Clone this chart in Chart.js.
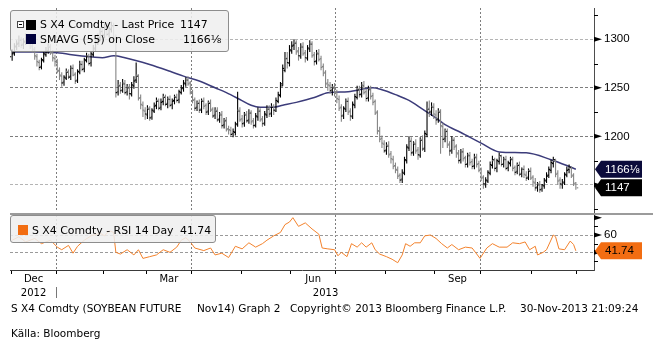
<!DOCTYPE html>
<html>
<head>
<meta charset="utf-8">
<title>S X4 Comdty</title>
<script src="https://cdn.jsdelivr.net/npm/chart.js@4/dist/chart.umd.min.js"></script>
<style>
  body { margin:0; width:653px; height:347px; position:relative; overflow:hidden; background:#fff; color:#000; font-family:"DejaVu Sans", sans-serif; }
  canvas { position:absolute; left:0; }
  #priceChart { top:0; }
  #rsiChart { top:213px; }
  .sep { position:absolute; left:10px; top:213px; width:643px; height:2px; background:#9b9b9b; }
  .box { position:absolute; background:rgba(239,239,239,0.86); border:1px solid #8d8d8d; border-radius:3px; font-size:10.9px; }
  .box span { position:absolute; white-space:nowrap; line-height:14px; }
  .sw { position:absolute; width:10px; height:10px; }
  .tog { position:absolute; width:5px; height:5px; border:1px solid #444; background:#fff; }
  .tog:after { content:''; position:absolute; left:1px; top:2px; width:3px; height:1px; background:#000; }
  .foot { position:absolute; font-size:10.5px; white-space:nowrap; line-height:13px; }
</style>
</head>
<body>
<canvas id="priceChart" width="653" height="213"></canvas>
<canvas id="rsiChart" width="653" height="134"></canvas>
<div class="sep"></div>

<div class="box" style="left:10px;top:10px;width:217px;height:40px">
  <div class="tog" style="left:6px;top:10px"></div>
  <div class="sw" style="left:15px;top:9px;background:#000"></div>
  <span style="left:29px;top:7px">S X4 Comdty - Last Price</span>
  <span id="lastPx" style="left:169px;top:7px"></span>
  <div class="sw" style="left:15px;top:23px;background:#00003c"></div>
  <span style="left:29px;top:22px">SMAVG (55) on Close</span>
  <span id="lastSma" style="left:172px;top:22px"></span>
</div>

<div class="box" style="left:10px;top:215px;width:204px;height:26px">
  <div class="sw" style="left:7px;top:9px;background:#f26d12"></div>
  <span style="left:21px;top:8px">S X4 Comdty - RSI 14 Day</span>
  <span id="lastRsi" style="left:169px;top:8px"></span>
</div>

<div class="foot" style="left:11px;top:302px">S X4 Comdty (SOYBEAN FUTURE</div>
<div class="foot" style="left:197px;top:302px">Nov14) Graph 2</div>
<div class="foot" style="left:290px;top:302px">Copyright© 2013 Bloomberg Finance L.P.</div>
<div class="foot" style="left:520px;top:302px">30-Nov-2013 21:09:24</div>
<div class="foot" style="left:11px;top:327px">Källa: Bloomberg</div>

<script>
// daily bars, Dec 2012 - Nov 2013 (trading-day index 0..250)
const opens = [
  1282,1285,1293,1295,1300,1294,1297,1303,1296,1292,1290,1283,1277,1271,1279,1285,1287,1293,1286,1281,
  1277,1267,1263,1255,1261,1267,1261,1271,1263,1257,1267,1275,1269,1279,1283,1275,1285,1291,1297,1301,1309,
  1304,1313,1305,1311,1313,1301,1245,1253,1247,1255,1245,1251,1244,1253,1257,1263,1239,1233,1227,
  1223,1229,1219,1227,1231,1237,1229,1235,1241,1233,1239,1232,1236,1241,1237,1246,1249,1255,1259,1254,
  1245,1237,1229,1235,1227,1237,1231,1225,1235,1227,1221,1227,1217,1223,1211,1217,1207,1207,1202,1205,1213,1227,
  1217,1213,1223,1216,1225,1215,1211,1221,1227,1217,1213,1223,1229,1223,1231,1227,1237,1243,1254,1270,1281,1276,
  1289,1293,1297,1287,1283,1293,1285,1281,1291,1296,1283,1277,1286,1279,1271,1265,1254,1253,1247,1251,
  1245,1239,1229,1221,1229,1237,1225,1221,1233,1241,1249,1243,1253,1245,1239,1249,1241,1235,1224,1206,1197,1193,
  1185,1191,1181,1177,1169,1166,1159,1155,1163,1176,1189,1196,1183,1193,1185,1181,1197,1187,1203,1229,1225,1231,
  1223,1217,1226,1211,1197,1206,1191,1185,1197,1189,1183,1175,1185,1177,1171,1181,1173,1169,1179,1171,
  1165,1157,1151,1155,1163,1171,1175,1167,1175,1179,1171,1177,1167,1173,1177,1167,1163,1171,1161,1167,1161,1157,1165,
  1157,1153,1147,1151,1145,1150,1155,1159,1166,1173,1175,1161,1154,1151,1153,1161,1165,1167,1159,1151
];
const highs = [
  1290,1296,1299,1304,1302,1301,1306,1305,1299,1295,1292,1285,1279,1281,1288,1292,1296,1295,1289,1284,
  1280,1271,1266,1263,1270,1269,1273,1274,1266,1269,1278,1278,1281,1286,1285,1287,1294,1299,1306,1312,1313,
  1316,1317,1313,1318,1317,1305,1258,1256,1259,1258,1254,1254,1256,1262,1276,1264,1243,1236,1230,
  1232,1231,1229,1235,1240,1239,1239,1244,1243,1241,1242,1239,1243,1244,1248,1253,1258,1261,1262,1257,
  1248,1240,1237,1238,1239,1240,1234,1237,1238,1230,1230,1230,1225,1226,1219,1220,1211,1210,1208,1215,1246,1230,
  1222,1225,1226,1228,1227,1219,1224,1230,1229,1221,1226,1232,1232,1234,1233,1240,1246,1256,1274,1287,1287,1294,
  1298,1300,1299,1292,1296,1297,1289,1294,1299,1298,1287,1289,1290,1283,1275,1268,1259,1256,1254,1255,
  1248,1242,1233,1231,1239,1240,1229,1236,1244,1252,1252,1256,1257,1249,1252,1252,1245,1238,1227,1210,1201,1196,
  1194,1195,1185,1180,1173,1169,1162,1166,1179,1192,1200,1199,1195,1197,1189,1199,1201,1206,1236,1237,1235,1234,
  1227,1229,1228,1214,1208,1208,1195,1200,1199,1192,1186,1187,1188,1180,1183,1184,1177,1182,1182,1175,
  1168,1160,1158,1165,1174,1180,1178,1177,1183,1181,1179,1180,1175,1179,1179,1170,1173,1174,1168,1170,1164,1167,1168,
  1160,1157,1153,1154,1151,1157,1163,1169,1176,1179,1177,1165,1158,1156,1163,1169,1171,1169,1162,1153
];
const lows = [
  1278,1283,1289,1292,1291,1290,1294,1295,1290,1286,1279,1272,1268,1269,1276,1282,1285,1284,1277,1272,
  1265,1258,1251,1252,1258,1259,1258,1262,1254,1255,1264,1267,1266,1276,1273,1272,1282,1288,1294,1298,1301,
  1301,1303,1302,1307,1299,1240,1242,1244,1245,1243,1242,1238,1241,1249,1255,1237,1228,1220,1217,
  1218,1216,1217,1224,1228,1227,1227,1232,1231,1229,1230,1228,1233,1235,1234,1243,1246,1251,1252,1243,
  1234,1226,1226,1224,1224,1228,1222,1222,1225,1219,1218,1215,1214,1208,1208,1205,1202,1200,1199,1201,1210,1215,
  1209,1210,1214,1213,1212,1208,1209,1216,1215,1210,1211,1219,1220,1220,1222,1225,1234,1240,1252,1266,1270,1272,
  1285,1289,1284,1278,1280,1283,1276,1278,1287,1281,1273,1274,1277,1268,1262,1250,1247,1244,1242,1241,
  1234,1226,1215,1218,1225,1222,1216,1218,1229,1238,1240,1240,1243,1236,1236,1238,1232,1222,1202,1194,1188,1183,
  1181,1178,1172,1166,1162,1156,1152,1152,1160,1172,1185,1180,1180,1182,1176,1178,1185,1184,1199,1220,1221,1218,
  1212,1214,1182,1188,1194,1188,1180,1182,1186,1178,1172,1172,1174,1168,1168,1170,1166,1166,1168,1163,
  1154,1146,1147,1152,1160,1167,1164,1163,1171,1169,1168,1165,1164,1169,1164,1160,1161,1159,1158,1157,1154,1155,1155,
  1148,1144,1143,1142,1143,1146,1152,1157,1162,1168,1158,1150,1146,1146,1150,1158,1162,1157,1149,1145
];
const closes = [
  1286,1292,1296,1299,1295,1298,1302,1297,1293,1289,1282,1276,1272,1278,1284,1288,1292,1287,1280,1276,
  1268,1262,1256,1260,1266,1262,1270,1264,1258,1266,1274,1270,1278,1282,1276,1284,1290,1296,1302,1308,1305,
  1312,1306,1310,1314,1302,1246,1252,1248,1254,1246,1250,1243,1252,1258,1262,1240,1232,1226,1222,
  1228,1220,1226,1232,1236,1230,1236,1240,1234,1238,1233,1237,1240,1238,1245,1250,1254,1258,1255,1246,
  1238,1230,1234,1228,1236,1232,1226,1234,1228,1222,1226,1218,1222,1212,1216,1208,1206,1203,1204,1212,1226,1218,
  1214,1222,1217,1224,1216,1212,1220,1226,1218,1214,1222,1228,1224,1230,1226,1236,1242,1252,1268,1280,1275,1288,
  1294,1296,1288,1282,1292,1286,1280,1290,1295,1284,1278,1285,1280,1272,1266,1255,1252,1248,1250,1246,
  1238,1230,1222,1228,1236,1226,1220,1232,1240,1248,1244,1252,1246,1240,1248,1242,1236,1225,1205,1198,1192,1186,
  1190,1182,1176,1170,1165,1160,1156,1162,1175,1188,1195,1184,1192,1186,1180,1196,1188,1202,1228,1226,1230,1222,
  1218,1225,1210,1198,1205,1192,1186,1196,1190,1182,1176,1184,1178,1172,1180,1174,1170,1178,1172,1166,
  1158,1150,1154,1162,1170,1176,1168,1174,1180,1172,1176,1168,1172,1176,1168,1164,1170,1162,1166,1160,1158,1164,1158,
  1152,1148,1150,1146,1149,1154,1160,1165,1172,1176,1162,1155,1150,1152,1160,1166,1168,1160,1152,1147
];

// 55-day simple moving average of the close
const smaIdx = [0,10,20,30,40,45,50,61,70,76,83,90,95,101,106,110,116,120,126,134,140,149,160,164,170,176,182,188,192,199,208,216,228,239,246,250];
const smaVal = [1287,1287,1286,1283,1281,1283,1281,1274,1267,1262,1257,1250,1245,1238,1232,1230,1230,1232,1235,1240,1245,1246,1250,1248,1243,1237,1228,1219,1212,1204,1193,1184,1183,1176,1170,1166.125];

// RSI 14 day
const rsiIdx = [0,3,6,10,13,17,20,22,25,27,29,32,35,39,41,43,45,46,48,51,54,56,58,61,64,67,70,73,75,77,79,81,85,88,90,93,96,99,102,105,108,111,113,116,119,121,123,124.5,127,130,133,136,137.5,140,143,144.5,146,148.5,150.5,153,155,157,159.5,161,163,166,168.5,171,173,174.5,176.5,178.5,181,183,185.5,188,190.5,193,195,198,201,204,207.5,210.5,213,216,219.5,222,225,227.5,229.5,232,233,235.5,237,240,241,242.5,245,247.5,249,250];
const rsiVal = [54,58,52,56,50,54,46,43,48,39,47,54,59,62,59,65,63,40,38,43,37,43,33,35,37,43,40,46,54,57,52,45,42,45,37,39,34,47,44,51,46,50,54,59,63,72,75,80,70,74,67,61,45,44,43,36,40,35,50,46,51,46,51,43,38,35,32,28,37,50,47,51,51,59,60,56,50,45,49,43,46,45,33,45,50,46,46,51,50,52,43,47,37,40,43,60,58,44,43,53,49,41.74];

// time axis: month boundaries in trading-day units
const monthStarts = [-0.5,19.5,40.5,59.5,79.5,101.5,123.5,143.5,165.5,187.5,207.5,230.5,250.5];
const quarterStarts = [19.5,79.5,143.5,207.5];
const monthLabels = ['Dec','Mar','Jun','Sep'];
const monthLabelAt = [9.5,69.5,133.5,197.5];
const yearLabels = ['2012','2013'];
const yearLabelAt = [9.5,139];
const xMin = -0.95, xMax = 258.05;

const priceGrid = [1150,1200,1250,1300];
const priceMinor = [1125,1175,1225,1275,1325];
const rsiGrid = [40,60];
const rsiMinor = [30,50,70];

const lastClose = closes[closes.length - 1];
const lastSma = smaVal[smaVal.length - 1];
const lastRsi = rsiVal[rsiVal.length - 1];

function eighths(v) {
  const whole = Math.floor(v);
  const frac = Math.round((v - whole) * 8);
  return whole + ['', '⅛', '¼', '⅜', '½', '⅝', '¾', '⅞'][frac];
}

document.getElementById('lastPx').textContent = lastClose;
document.getElementById('lastSma').textContent = eighths(lastSma);
document.getElementById('lastRsi').textContent = lastRsi.toFixed(2);

Chart.defaults.font.family = '"Liberation Sans", Arial, sans-serif';
Chart.defaults.animation = false;

// arrows, minor ticks and last-value tags on the right axis
const axisMarks = {
  id: 'axisMarks',
  afterDraw(chart, args, o) {
    const { ctx, chartArea } = chart;
    const y = chart.scales.y;
    const x0 = chartArea.right;
    ctx.save();
    ctx.fillStyle = '#000';
    ctx.strokeStyle = '#000';
    ctx.lineWidth = 1;
    o.minor.forEach(v => {
      const p = Math.round(y.getPixelForValue(v)) + 0.5;
      ctx.beginPath(); ctx.moveTo(x0, p); ctx.lineTo(x0 + 4, p); ctx.stroke();
    });
    o.arrows.forEach(v => {
      const p = y.getPixelForValue(v);
      ctx.beginPath(); ctx.moveTo(x0, p - 2.5); ctx.lineTo(x0 + 8, p); ctx.lineTo(x0, p + 2.5); ctx.closePath(); ctx.fill();
    });
    ctx.font = '11.5px "Liberation Sans", Arial, sans-serif';
    ctx.textBaseline = 'middle';
    ctx.textAlign = 'left';
    o.tags.forEach(t => {
      const p = y.getPixelForValue(t.value);
      ctx.fillStyle = t.bg;
      ctx.beginPath();
      ctx.moveTo(x0 + 1, p);
      ctx.lineTo(x0 + 7, p - 8.5);
      ctx.lineTo(x0 + 48, p - 8.5);
      ctx.lineTo(x0 + 48, p + 8.5);
      ctx.lineTo(x0 + 7, p + 8.5);
      ctx.closePath();
      ctx.fill();
      ctx.fillStyle = t.fg;
      ctx.fillText(t.text, x0 + 11, p + 0.5);
    });
    ctx.restore();
  }
};

// month and year names under the time axis
const monthText = {
  id: 'monthText',
  afterDraw(chart) {
    const { ctx, chartArea } = chart;
    const x = chart.scales.x;
    const b = chartArea.bottom;
    ctx.save();
    ctx.font = '10px "DejaVu Sans", sans-serif';
    ctx.fillStyle = '#000';
    ctx.textAlign = 'center';
    ctx.textBaseline = 'middle';
    monthLabels.forEach((m, k) => ctx.fillText(m, x.getPixelForValue(monthLabelAt[k]), b + 9));
    yearLabels.forEach((m, k) => ctx.fillText(m, x.getPixelForValue(yearLabelAt[k]), b + 23.5));
    const px = Math.round(x.getPixelForValue(monthStarts[1])) + 0.5;
    ctx.strokeStyle = '#777';
    ctx.beginPath(); ctx.moveTo(px, b + 17); ctx.lineTo(px, b + 28); ctx.stroke();
    ctx.restore();
  }
};

function noPad(s) { s.paddingTop = 0; s.paddingBottom = 0; s.paddingLeft = 0; s.paddingRight = 0; }

// grey for sessions that closed below both the open and the prior close
const barColor = closes.map((c, i) => (c < opens[i] && i > 0 && c < closes[i - 1]) ? '#858585' : '#000');
const ohlcBar = { type: 'bar', grouped: true, inflateAmount: 0, borderWidth: 0, categoryPercentage: 1, barPercentage: 1, backgroundColor: barColor };

new Chart(document.getElementById('priceChart'), {
  type: 'bar',
  data: {
    datasets: [
      { ...ohlcBar, label: 'Open', barThickness: 1.6, data: opens.map((o, i) => ({ x: i, y: [o - 0.6, o + 0.6] })) },
      { ...ohlcBar, label: 'Range', barThickness: 1.1, data: lows.map((l, i) => ({ x: i, y: [l, highs[i]] })) },
      { ...ohlcBar, label: 'Close', barThickness: 1.6, data: closes.map((c, i) => ({ x: i, y: [c - 0.6, c + 0.6] })) },
      { type: 'line', label: 'SMAVG (55)', data: smaIdx.map((d, k) => ({ x: d, y: smaVal[k] })),
        borderColor: '#3c3c7a', borderWidth: 1.5, pointRadius: 0, cubicInterpolationMode: 'monotone' }
    ]
  },
  options: {
    responsive: false,
    devicePixelRatio: 1,
    events: [],
    layout: { padding: { left: 10, top: 8, right: 0, bottom: 1 } },
    plugins: {
      legend: { display: false },
      tooltip: { enabled: false },
      axisMarks: {
        minor: priceMinor,
        arrows: priceGrid,
        tags: [
          { value: lastSma, text: eighths(lastSma), bg: '#0b0b3b', fg: '#fff' },
          { value: lastClose, text: String(lastClose), bg: '#000', fg: '#fff' }
        ]
      }
    },
    scales: {
      x: {
        type: 'linear', min: xMin, max: xMax, offset: false,
        afterBuildTicks: s => { s.ticks = quarterStarts.map(v => ({ value: v })); },
        afterFit: s => { s.height = 0; noPad(s); },
        ticks: { display: false },
        grid: { offset: false, color: '#7d7d7d', drawTicks: false },
        border: { display: false, dash: [2, 2] }
      },
      y: {
        position: 'right', min: 1122.1, max: 1332.2,
        afterBuildTicks: s => { s.ticks = priceGrid.map(v => ({ value: v })); },
        afterFit: s => { s.width = 59; noPad(s); },
        ticks: { padding: 10, color: '#000', font: { size: 11.5 }, callback: v => String(v) },
        grid: { drawTicks: false, color: c => (c.tick && (c.tick.value === 1250 || c.tick.value === 1200)) ? '#7d7d7d' : '#b4b4b4' },
        border: { color: '#4d4d4d', dash: [3, 2] }
      }
    }
  },
  plugins: [axisMarks]
});

new Chart(document.getElementById('rsiChart'), {
  type: 'line',
  data: {
    datasets: [
      { label: 'RSI 14 Day', data: rsiIdx.map((d, k) => ({ x: d, y: rsiVal[k] })),
        borderColor: '#f3822c', borderWidth: 1, pointRadius: 0, tension: 0 }
    ]
  },
  options: {
    responsive: false,
    devicePixelRatio: 1,
    events: [],
    layout: { padding: { left: 10, top: 2, right: 0, bottom: 73 } },
    plugins: {
      legend: { display: false },
      tooltip: { enabled: false },
      axisMarks: {
        minor: rsiMinor,
        arrows: [40, 60, 80],
        tags: [{ value: lastRsi, text: lastRsi.toFixed(2), bg: '#f26d12', fg: '#000' }]
      }
    },
    scales: {
      x: {
        type: 'linear', min: xMin, max: xMax, offset: false,
        afterBuildTicks: s => { s.ticks = monthStarts.map(v => ({ value: v })); },
        afterFit: s => { s.height = 4; noPad(s); },
        ticks: { display: false },
        grid: {
          offset: false, drawTicks: true, tickLength: 4, tickColor: '#000',
          color: c => (c.tick && quarterStarts.includes(c.tick.value)) ? '#7d7d7d' : 'rgba(0,0,0,0)'
        },
        border: { display: true, color: '#3a3a3a', dash: [2, 2] }
      },
      y: {
        position: 'right', min: 19.6, max: 83.1,
        afterBuildTicks: s => { s.ticks = rsiGrid.map(v => ({ value: v })); },
        afterFit: s => { s.width = 59; noPad(s); },
        ticks: { padding: 10, color: '#000', font: { size: 11.5 }, callback: v => String(v) },
        grid: { drawTicks: false, color: '#9a9a9a' },
        border: { color: '#4d4d4d', dash: [3, 2] }
      }
    }
  },
  plugins: [axisMarks, monthText]
});
</script>
</body>
</html>
